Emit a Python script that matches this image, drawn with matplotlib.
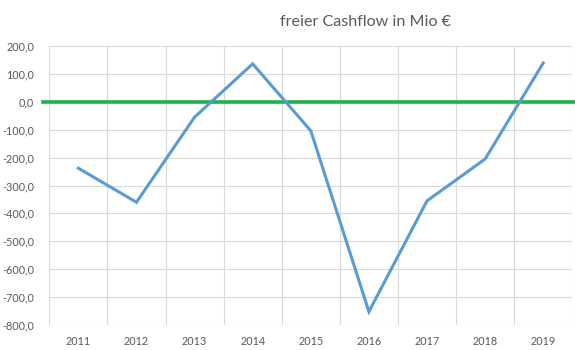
import matplotlib
matplotlib.use("Agg")
import matplotlib.pyplot as plt
from matplotlib.transforms import blended_transform_factory

years = ["2011", "2012", "2013", "2014", "2015", "2016", "2017", "2018", "2019"]
cashflow = [-238, -360, -55, 136, -104, -752, -355, -205, 139]
y_ticks = [200, 100, 0, -100, -200, -300, -400, -500, -600, -700, -800]
title = "freier Cashflow in Mio €"

plt.rcParams['font.family'] = ['Lato', 'DejaVu Sans']

W, H = 575, 350
fig = plt.figure(figsize=(W / 100, H / 100), dpi=100)
left, right, top, bottom = 49.3, 572.3, 46, 325
ax = fig.add_axes([left / W, 1 - bottom / H, (right - left) / W, (bottom - top) / H])

x = list(range(len(years)))
ax.set_xlim(-0.5, len(years) - 0.5)
ax.set_ylim(-800, 200)

# vertical gridlines at category boundaries
for b in [i - 0.5 for i in range(len(years) + 1)]:
    ax.axvline(b, color="#d9d9d9", lw=0.8, zorder=1)
ax.set_yticks(y_ticks)
ax.set_yticklabels([f"{v:.1f}".replace(".", ",") for v in y_ticks])
ax.yaxis.grid(True, color="#d9d9d9", lw=0.8, zorder=1)
ax.set_xticks(x)
ax.set_xticklabels(years)
for s in ax.spines.values():
    s.set_visible(False)
ax.tick_params(axis="both", length=0, labelsize=7.8, colors="#595959")
ax.tick_params(axis="y", pad=11)
ax.tick_params(axis="x", pad=8)

ax.plot(x, cashflow, color="#5b9bd5", lw=2.2, zorder=3, solid_joinstyle="miter")

trans = blended_transform_factory(fig.transFigure, ax.transData)
ax.plot([43 / W, 1.0], [0, 0], transform=trans, color="#1fb04a", lw=2.6,
        clip_on=False, zorder=2)

fig.text(365 / W, 1 - 22 / H, title, ha="center", va="center", fontsize=11.6, color="#595959")

fig.savefig("out.png", dpi=100, facecolor="white")
